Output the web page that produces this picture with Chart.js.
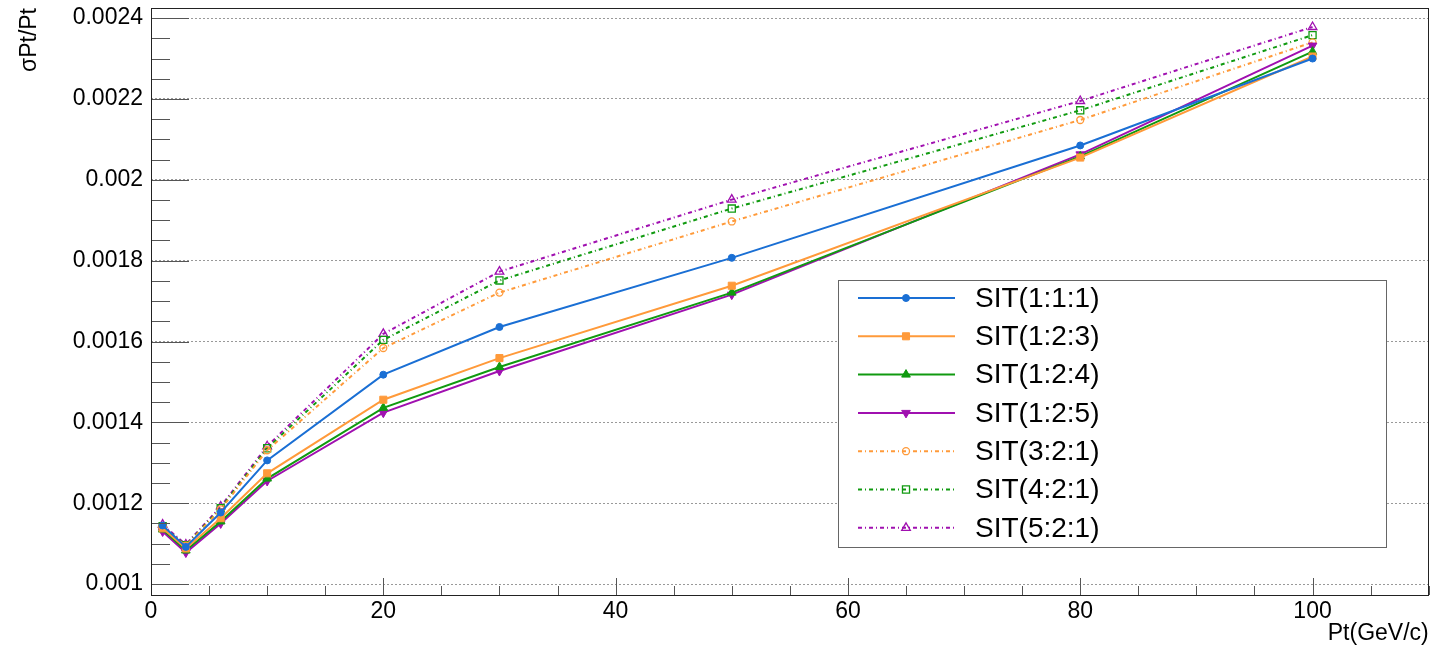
<!DOCTYPE html>
<html>
<head>
<meta charset="utf-8">
<script src="https://cdn.jsdelivr.net/npm/chart.js@4"></script>
<style>
  html, body { margin: 0; padding: 0; background: #fff; }
  #wrap { width: 1435px; height: 650px; }
</style>
</head>
<body>
<div id="wrap"><canvas id="graph" width="1435" height="650"></canvas></div>
<script>
// Pt points (GeV/c)
const pt = [1, 3, 6, 10, 20, 30, 50, 80, 100];

// sigma(Pt)/Pt for each SIT layout
const sit111 = [0.001145, 0.001092, 0.001177, 0.001306, 0.001518, 0.001636, 0.001807, 0.002085, 0.002300];
const sit123 = [0.001138, 0.001088, 0.001163, 0.001274, 0.001456, 0.001559, 0.001738, 0.002055, 0.002305];
const sit124 = [0.001135, 0.001083, 0.001155, 0.001261, 0.001436, 0.001537, 0.001721, 0.002058, 0.002317];
const sit125 = [0.001130, 0.001078, 0.001150, 0.001255, 0.001424, 0.001527, 0.001716, 0.002063, 0.002332];
const sit321 = [0.001140, 0.001095, 0.001185, 0.001331, 0.001584, 0.001721, 0.001897, 0.002148, 0.002340];
const sit421 = [0.001143, 0.001096, 0.001188, 0.001336, 0.001604, 0.001751, 0.001929, 0.002172, 0.002358];
const sit521 = [0.001147, 0.001098, 0.001192, 0.001341, 0.001619, 0.001773, 0.001951, 0.002195, 0.002378];

const labels = ["SIT(1:1:1)", "SIT(1:2:3)", "SIT(1:2:4)", "SIT(1:2:5)", "SIT(3:2:1)", "SIT(4:2:1)", "SIT(5:2:1)"];

// axis ticks
const xMajor = [0, 20, 40, 60, 80, 100];
const yMajor = [0.001, 0.0012, 0.0014, 0.0016, 0.0018, 0.002, 0.0022, 0.0024];

const BLUE = "#1a6fd4";
const ORANGE = "#ff9a3a";
const GREEN = "#109a10";
const PURPLE = "#a010b0";
const DASH = [4, 3, 1, 3];
const FONT = "'Liberation Sans', Arial, sans-serif";

function series(label, ys, color, style, open, dashed, rot) {
  return {
    label: label,
    data: pt.map((x, i) => ({ x: x, y: ys[i] })),
    borderColor: color,
    backgroundColor: color,
    borderWidth: 2,
    borderDash: dashed ? DASH : [],
    pointStyle: style,
    pointRotation: rot || 0,
    pointRadius: style === "circle" ? 3.5 : 5,
    pointBorderWidth: open ? 1.3 : 1,
    pointBorderColor: color,
    pointBackgroundColor: open ? "rgba(0,0,0,0)" : color,
    tension: 0,
  };
}

const datasets = [
  series(labels[0], sit111, BLUE, "circle", false, false),
  series(labels[1], sit123, ORANGE, "rect", false, false),
  series(labels[2], sit124, GREEN, "triangle", false, false),
  series(labels[3], sit125, PURPLE, "triangle", false, false, 180),
  series(labels[4], sit321, ORANGE, "circle", true, true),
  series(labels[5], sit421, GREEN, "rect", true, true),
  series(labels[6], sit521, PURPLE, "triangle", true, true),
];

// frame + inner tick marks (ROOT style)
const frameTicks = {
  id: "frameTicks",
  afterDatasetsDraw(chart) {
    const { ctx, scales } = chart;
    const xs = scales.x, ys = scales.y;
    const L = xs.getPixelForValue(0), R = xs.getPixelForValue(110);
    const T = ys.getPixelForValue(ys.max), B = ys.getPixelForValue(ys.min);
    ctx.save();
    ctx.strokeStyle = "#555";
    ctx.lineWidth = 1;
    ctx.beginPath();
    // y ticks, every 0.00005, major at 0.0002
    for (let k = 0; k <= 40; k++) {
      const v = 0.00095 + k * 0.00005;
      const py = Math.round(ys.getPixelForValue(v)) + 0.5;
      if (py < T || py > B) continue;
      const r = Math.round(v * 100000) % 20;
      const len = r === 0 ? 38 : 19;
      ctx.moveTo(L, py);
      ctx.lineTo(L + len, py);
    }
    // x ticks, every 5, major at 20
    for (let v = 0; v <= 110; v += 5) {
      const px = Math.round(xs.getPixelForValue(v)) + 0.5;
      const len = v % 20 === 0 ? 17 : 9;
      ctx.moveTo(px, B);
      ctx.lineTo(px, B - len);
    }
    ctx.stroke();
    ctx.strokeStyle = "#222";
    ctx.strokeRect(Math.round(L) + 0.5, Math.round(T) + 0.5, Math.round(R - L) - 1, Math.round(B - T));
    ctx.restore();
  },
};

// legend box inside the plot
const boxLegend = {
  id: "boxLegend",
  afterDraw(chart) {
    const ctx = chart.ctx;
    const bx = 838, by = 280, bw = 548, bh = 267;
    ctx.save();
    ctx.fillStyle = "#fff";
    ctx.fillRect(bx, by, bw, bh);
    ctx.strokeStyle = "#666";
    ctx.lineWidth = 1;
    ctx.strokeRect(bx + 0.5, by + 0.5, bw, bh);
    chart.data.datasets.forEach((ds, i) => {
      const y = 298 + i * 38.3;
      ctx.strokeStyle = ds.borderColor;
      ctx.lineWidth = ds.borderWidth;
      ctx.setLineDash(ds.borderDash);
      ctx.beginPath();
      ctx.moveTo(858, y);
      ctx.lineTo(955, y);
      ctx.stroke();
      ctx.setLineDash([]);
      ctx.fillStyle = ds.pointBackgroundColor;
      ctx.strokeStyle = ds.pointBorderColor;
      ctx.lineWidth = ds.pointBorderWidth;
      Chart.helpers.drawPoint(ctx, {
        pointStyle: ds.pointStyle,
        rotation: ds.pointRotation,
        radius: ds.pointRadius,
        borderWidth: ds.pointBorderWidth,
      }, 906, y);
      ctx.fillStyle = "#000";
      ctx.font = "28px " + FONT;
      ctx.textBaseline = "middle";
      ctx.textAlign = "left";
      ctx.fillText(ds.label, 975, y + 1);
    });
    ctx.restore();
  },
};

const tickFont = { family: FONT, size: 23 };

const config = {
  type: "line",
  data: { datasets: datasets },
  options: {
    responsive: false,
    animation: false,
    layout: { padding: { left: 0, right: 5, top: 8, bottom: 0 } },
    plugins: { legend: { display: false }, tooltip: { enabled: false } },
    scales: {
      x: {
        type: "linear",
        min: 0,
        max: 110,
        afterBuildTicks: (s) => { s.ticks = xMajor.map((v) => ({ value: v })); },
        afterFit: (s) => { s.height = 55; s.paddingLeft = 0; s.paddingRight = 0; },
        grid: { display: false, drawTicks: false, tickLength: 0 },
        border: { display: false },
        ticks: { color: "#000", font: tickFont, padding: 3, maxRotation: 0, autoSkip: false },
        title: {
          display: true,
          text: "Pt(GeV/c)",
          align: "end",
          color: "#000",
          font: { family: FONT, size: 23, lineHeight: 1.2 },
          padding: { top: 0, bottom: 3 },
        },
      },
      y: {
        type: "linear",
        min: 0.000973,
        max: 0.002425,
        afterBuildTicks: (s) => { s.ticks = yMajor.map((v) => ({ value: v })); },
        afterFit: (s) => { s.width = 151; s.paddingTop = 0; s.paddingBottom = 0; },
        grid: {
          drawTicks: false,
          tickLength: 0,
          color: "#999",
          lineWidth: 1,
        },
        border: { display: false, dash: [2, 2] },
        ticks: {
          color: "#000",
          font: tickFont,
          padding: 8,
          callback: (v) => String(Number(v.toFixed(4))),
        },
        title: {
          display: true,
          text: "σPt/Pt",
          align: "end",
          color: "#000",
          font: { family: FONT, size: 23, lineHeight: 1.2 },
          padding: { top: 16, bottom: 0 },
        },
      },
    },
  },
  plugins: [frameTicks, boxLegend],
};

window.onload = () => {
  new Chart(document.getElementById("graph"), config);
};
</script>
</body>
</html>
